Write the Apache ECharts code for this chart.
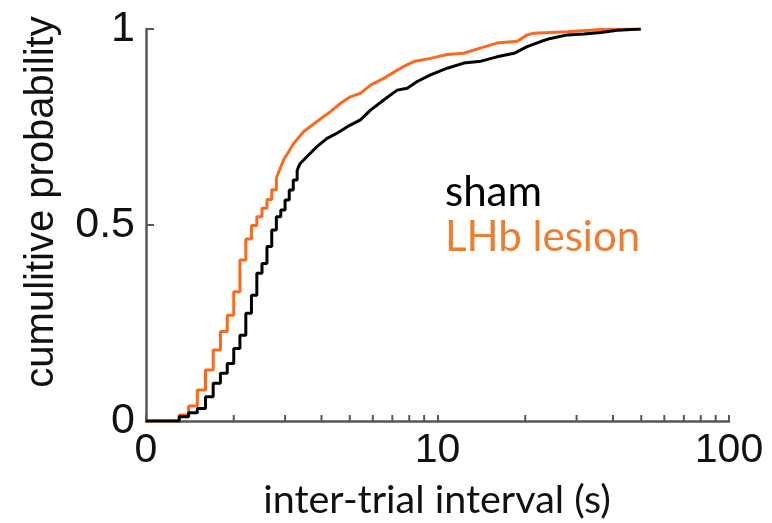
<!DOCTYPE html>
<html>
<head>
<meta charset="utf-8">
<script src="https://cdn.jsdelivr.net/npm/echarts@6/dist/echarts.min.js"></script>
<style>
html,body{margin:0;padding:0;background:#fff;}
#chart{width:772px;height:523px;}
</style>
</head>
<body>
<div id="chart"></div>
<script>
// ---- data ----
const xTickValues = [1, 10, 100];
const xTickLabels = ['0', '10', '100'];
const xMinorTickValues = [2, 3, 4, 5, 6, 7, 8, 9, 20, 30, 40, 50, 60, 70, 80, 90];
const yTickValues = [0, 0.5, 1];

// sham: stepped lower part (s, probability)
const shamStepX = [1.0, 1.3, 1.4, 1.5, 1.6, 1.7, 1.8, 1.9, 2.0, 2.1, 2.2, 2.3, 2.4, 2.5, 2.6, 2.7, 2.8, 2.9, 3.0, 3.1, 3.2, 3.3];
const shamStepP = [0, 0.011, 0.021, 0.032, 0.062, 0.096, 0.122, 0.147, 0.185, 0.219, 0.275, 0.321, 0.377, 0.402, 0.445, 0.487, 0.521, 0.538, 0.564, 0.589, 0.615, 0.640];
// sham: upper part
const shamUpX = [3.3, 3.38, 3.66, 3.86, 4.18, 4.52, 5.02, 5.44, 5.89, 6.54, 7.27, 7.87, 8.52, 9.46, 10.8, 12.3, 14.1, 16.0, 18.3, 20.3, 22.6, 24.4, 27.9, 31.8, 36.3, 41.4, 49.8];
const shamUpP = [0.640, 0.657, 0.683, 0.700, 0.721, 0.734, 0.755, 0.768, 0.793, 0.819, 0.844, 0.849, 0.866, 0.883, 0.900, 0.913, 0.918, 0.929, 0.938, 0.955, 0.968, 0.976, 0.985, 0.987, 0.991, 0.997, 1.0];

// LHb lesion: stepped lower part
const lesionStepX = [1.0, 1.3, 1.4, 1.5, 1.6, 1.7, 1.8, 1.9, 2.0, 2.1, 2.2, 2.3, 2.4, 2.5, 2.6, 2.7, 2.8];
const lesionStepP = [0, 0.015, 0.038, 0.079, 0.130, 0.181, 0.228, 0.270, 0.330, 0.411, 0.464, 0.499, 0.521, 0.543, 0.565, 0.590, 0.620];
// LHb lesion: upper part
const lesionUpX = [2.8, 2.96, 3.21, 3.47, 3.86, 4.29, 4.64, 5.02, 5.44, 5.89, 6.54, 7.46, 8.29, 9.46, 10.8, 12.3, 14.1, 16.0, 18.8, 20.3, 21.4, 27.9, 36.3, 49.8];
const lesionUpP = [0.620, 0.665, 0.708, 0.738, 0.764, 0.789, 0.810, 0.827, 0.836, 0.857, 0.874, 0.900, 0.917, 0.925, 0.935, 0.938, 0.952, 0.964, 0.969, 0.985, 0.989, 0.993, 0.999, 1.0];

const seriesNames = ['sham', 'LHb lesion'];
const xName = 'inter-trial interval (s)';
const yName = 'cumulitive probability';

// ---- chart ----
const zip = (a, b) => a.map((v, i) => [v, b[i]]);
const AXIS = '#575757';
const ORANGE = '#FA6A1E';
const ORANGE_TEXT = '#ED7D31';
const tickFont = '"Liberation Sans", Arial, sans-serif';
const calFont = 'Lato, "Open Sans", sans-serif';

const chart = echarts.init(document.getElementById('chart'), null, {renderer: 'canvas'});
chart.setOption({
  animation: false,
  grid: {left: 146, right: 43, top: 29, bottom: 102, containLabel: false},
  xAxis: {
    type: 'log', logBase: 10, min: 1, max: 100,
    axisLine: {show: true, lineStyle: {color: AXIS, width: 2.5}},
    axisTick: {show: true, inside: true, length: 6, lineStyle: {color: AXIS, width: 2}},
    splitLine: {show: false},
    axisLabel: {
      margin: 9, fontSize: 41, fontFamily: tickFont, color: '#111',
      formatter: v => { const i = xTickValues.indexOf(Math.round(v)); return i >= 0 ? xTickLabels[i] : ''; }
    }
  },
  yAxis: {
    type: 'value', min: 0, max: 1, interval: 0.5,
    axisLine: {show: true, lineStyle: {color: AXIS, width: 2.5}},
    axisTick: {show: true, inside: true, length: 8, lineStyle: {color: AXIS, width: 2}},
    splitLine: {show: false},
    axisLabel: {
      margin: 11, fontSize: 43, fontFamily: tickFont, color: '#111',
      formatter: v => { const i = yTickValues.indexOf(v); return i >= 0 ? String(yTickValues[i]) : ''; }
    }
  },
  series: [
    {name: seriesNames[1], type: 'line', step: 'end', showSymbol: false, data: zip(lesionStepX, lesionStepP),
     lineStyle: {color: ORANGE, width: 3}, z: 2},
    {name: seriesNames[1], type: 'line', showSymbol: false, data: zip(lesionUpX, lesionUpP),
     lineStyle: {color: ORANGE, width: 3}, z: 2},
    {name: seriesNames[0], type: 'line', step: 'end', showSymbol: false, data: zip(shamStepX, shamStepP),
     lineStyle: {color: '#000', width: 3}, z: 3},
    {name: seriesNames[0], type: 'line', showSymbol: false, data: zip(shamUpX, shamUpP),
     lineStyle: {color: '#000', width: 3}, z: 3},
    {
      type: 'custom', silent: true, clip: false, z: 4,
      data: xMinorTickValues.map(v => [v, 0]),
      renderItem: (params, api) => {
        const p = api.coord([api.value(0), 0]);
        return {type: 'line', shape: {x1: p[0], y1: p[1], x2: p[0], y2: p[1] - 6},
                style: {stroke: AXIS, lineWidth: 2}};
      }
    }
  ],
  graphic: [
    {type: 'text', x: 42, y: 202, rotation: Math.PI / 2,
     style: {text: yName, fontSize: 40, fontFamily: tickFont, fill: '#111', align: 'center', verticalAlign: 'middle'}},
    {type: 'text', x: 437, y: 500,
     style: {text: xName, fontSize: 39.5, fontFamily: calFont, fill: '#111', align: 'center', verticalAlign: 'middle'}},
    {type: 'text', x: 445, y: 192,
     style: {text: seriesNames[0], fontSize: 42, fontFamily: calFont, fill: '#000', align: 'left', verticalAlign: 'middle'}},
    {type: 'text', x: 445, y: 237,
     style: {text: seriesNames[1], fontSize: 42, fontFamily: calFont, fill: ORANGE_TEXT, align: 'left', verticalAlign: 'middle'}}
  ]
});
</script>
</body>
</html>
